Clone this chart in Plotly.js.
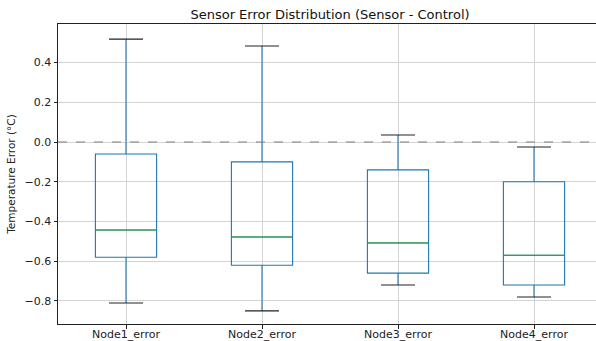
<!DOCTYPE html>
<html>
<head>
<meta charset="utf-8">
<script src="https://cdn.plot.ly/plotly-3.0.1.min.js"></script>
<style>
html,body{margin:0;padding:0;overflow:hidden;background:#fff;}
#chart{width:602px;height:341px;}
</style>
</head>
<body>
<div id="chart"></div>
<script>
const categories = ["Node1_error", "Node2_error", "Node3_error", "Node4_error"];
const lowerWhisker = [-0.81, -0.85, -0.72, -0.78];
const q1Values = [-0.58, -0.62, -0.66, -0.72];
const medianValues = [-0.443, -0.478, -0.508, -0.57];
const q3Values = [-0.06, -0.10, -0.14, -0.20];
const upperWhisker = [0.518, 0.483, 0.035, -0.025];

const positions = categories.map((c, i) => i + 1);
const boxHalf = 0.225;
const capHalf = 0.125;

const boxTrace = {
  type: "box",
  x: positions,
  q1: q1Values,
  median: medianValues,
  q3: q3Values,
  lowerfence: lowerWhisker,
  upperfence: upperWhisker,
  width: boxHalf * 2,
  whiskerwidth: 0,
  fillcolor: "rgba(0,0,0,0)",
  line: {color: "#1f77b4", width: 1.1},
  hoverinfo: "skip",
  showlegend: false
};

function segs(vals, half) {
  const xs = [], ys = [];
  positions.forEach((p, i) => {
    xs.push(p - half, p + half, null);
    ys.push(vals[i], vals[i], null);
  });
  return {xs, ys};
}
const med = segs(medianValues, boxHalf);
const capLo = segs(lowerWhisker, capHalf);
const capHi = segs(upperWhisker, capHalf);

const medianTrace = {type: "scatter", mode: "lines", x: med.xs, y: med.ys,
  line: {color: "#2ca02c", width: 1}, hoverinfo: "skip", showlegend: false};
const capTrace = {type: "scatter", mode: "lines",
  x: capLo.xs.concat(capHi.xs), y: capLo.ys.concat(capHi.ys),
  line: {color: "#222222", width: 1.1}, hoverinfo: "skip", showlegend: false};

const layout = {
  width: 602, height: 341,
  margin: {l: 58, r: 0, t: 24, b: 17},
  paper_bgcolor: "#fff", plot_bgcolor: "#fff",
  font: {family: "DejaVu Sans, sans-serif", size: 11, color: "#222"},
  title: {text: "Sensor Error Distribution (Sensor - Control)", font: {size: 13, color: "#111"},
    x: 0.5, xref: "paper", y: 1, yref: "paper", yanchor: "bottom", pad: {b: 5}},
  xaxis: {range: [0.5, 4.5], tickvals: positions, ticktext: categories,
    showgrid: true, gridcolor: "#d3d3d3", gridwidth: 1,
    showline: true, mirror: true, linecolor: "#222", linewidth: 1,
    ticks: "outside", ticklen: 3.5, tickcolor: "#222", zeroline: false,
    ticklabelstandoff: -4,
    tickfont: {size: 11}},
  yaxis: {range: [-0.916, 0.594], tickvals: [-0.8, -0.6, -0.4, -0.2, 0.0, 0.2, 0.4],
    tickformat: ".1f",
    showgrid: true, gridcolor: "#d3d3d3", gridwidth: 1,
    showline: true, mirror: true, linecolor: "#222", linewidth: 1,
    ticks: "outside", ticklen: 3.5, tickcolor: "#222", zeroline: false,
    tickfont: {size: 11},
    title: {text: "Temperature Error (°C)", font: {size: 10.5}, standoff: 6}},
  shapes: [{type: "line", xref: "paper", x0: 0, x1: 1, yref: "y", y0: 0, y1: 0,
    line: {color: "#7f7f7f", width: 1.2, dash: "dash"}}]
};

Plotly.newPlot("chart", [boxTrace, medianTrace, capTrace], layout, {staticPlot: true, displayModeBar: false});
</script>
</body>
</html>
